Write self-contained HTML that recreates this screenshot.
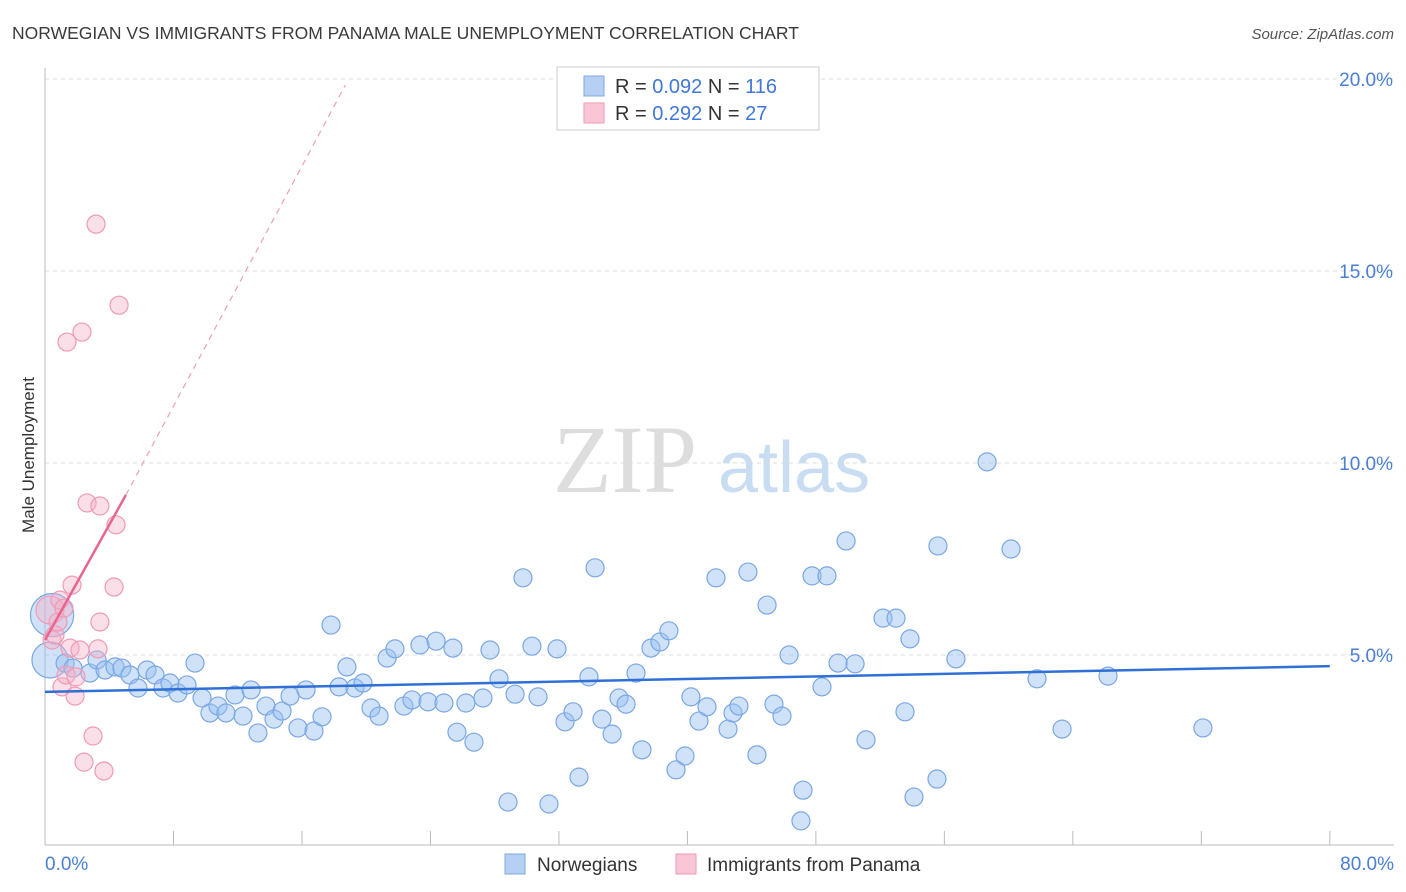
<!DOCTYPE html>
<html><head><meta charset="utf-8"><style>
body{margin:0;background:#fff;font-family:"Liberation Sans",sans-serif;}
svg{display:block}
</style></head><body>
<svg id="chart" width="1406" height="892">
<text x="12" y="39" font-size="17.5" fill="#3a3a3a">NORWEGIAN VS IMMIGRANTS FROM PANAMA MALE UNEMPLOYMENT CORRELATION CHART</text>
<text x="1394" y="39" font-size="15" fill="#555" text-anchor="end" font-style="italic">Source: ZipAtlas.com</text>
<text x="34" y="455" font-size="17" fill="#333" text-anchor="middle" transform="rotate(-90 34 455)">Male Unemployment</text>
<g>
<text x="553" y="492" font-size="96" font-family="Liberation Serif,serif" fill="#ddd">ZIP</text>
<text x="718" y="492" font-size="72" fill="#c8dcf2">atlas</text>
</g>
<g id="grid"></g><g id="marks"></g>
<g>
<rect x="557" y="67" width="262" height="63" fill="#fff" stroke="#ccc"/>
<rect x="584" y="76" width="20" height="20" fill="#b5d0f3" stroke="#7fa9e0"/>
<rect x="584" y="103" width="20" height="20" fill="#f9c6d6" stroke="#ef9ab5"/>
<text x="615" y="93" font-size="20" fill="#333">R = <tspan fill="#3f78d6">0.092</tspan>   N = <tspan fill="#3f78d6">116</tspan></text>
<text x="615" y="120" font-size="20" fill="#333">R =  <tspan fill="#3f78d6">0.292</tspan>   N =  <tspan fill="#3f78d6">27</tspan></text>
</g>
<g>
<rect x="505" y="854" width="20" height="20" fill="#b5d0f3" stroke="#7fa9e0"/>
<text x="537" y="871" font-size="19" fill="#333">Norwegians</text>
<rect x="676" y="854" width="20" height="20" fill="#f9c6d6" stroke="#ef9ab5"/>
<text x="707" y="871" font-size="19" fill="#333">Immigrants from Panama</text>
</g>
</svg>
<script>
const yTicks=[5,10,15,20];
const xTickLabels=["0.0%","80.0%"];
const blueX=[0.44,0.31,1.25,1.74,2.80,3.24,3.74,4.36,4.79,5.29,5.79,6.35,6.85,7.35,7.78,8.28,8.84,9.34,9.78,10.27,10.77,11.27,11.83,12.33,12.83,13.26,13.76,14.26,14.76,15.26,15.75,16.25,16.75,17.25,17.81,18.31,18.80,19.30,19.80,20.30,20.80,21.30,21.79,22.35,22.85,23.35,23.85,24.35,24.84,25.40,25.65,26.21,26.71,27.27,27.71,28.27,28.83,29.27,29.76,30.32,30.70,31.38,31.88,32.38,32.88,33.25,33.87,34.25,34.68,35.31,35.74,36.18,36.80,37.17,37.73,38.29,38.85,39.29,39.85,40.22,40.72,41.22,41.78,42.53,42.84,43.21,43.77,44.33,44.96,45.39,45.89,46.33,47.07,47.20,47.76,48.38,48.69,49.38,49.88,50.44,51.12,52.18,52.99,53.55,53.86,54.11,55.54,55.60,56.72,58.66,60.15,61.77,63.33,66.19,72.10];
const blueY=[6.04,4.87,4.79,4.66,4.53,4.87,4.61,4.69,4.66,4.48,4.14,4.61,4.48,4.14,4.27,4.01,4.22,4.79,3.88,3.49,3.67,3.49,3.96,3.41,4.09,2.97,3.67,3.33,3.54,3.93,3.10,4.09,3.02,3.39,5.78,4.17,4.69,4.14,4.27,3.62,3.41,4.92,5.16,3.67,3.83,5.26,3.78,5.36,3.75,5.18,2.99,3.75,2.73,3.88,5.13,4.38,1.17,3.98,7.01,5.23,3.91,1.12,5.16,3.26,3.52,1.82,4.43,7.27,3.33,2.94,3.88,3.72,4.53,2.53,5.18,5.34,5.63,2.01,2.37,3.91,3.28,3.65,7.01,3.07,3.49,3.67,7.16,2.40,6.30,3.72,3.41,5.00,0.68,1.48,7.06,4.17,7.06,4.79,7.97,4.77,2.79,5.96,5.96,3.52,5.42,1.30,1.77,7.84,4.90,10.03,7.76,4.38,3.07,4.45,3.10];
const blueSize=[2.4,2];
const pinkX=[0.31,0.44,0.62,0.81,0.93,1.18,1.68,1.37,2.30,3.18,4.61,2.62,3.42,4.42,4.30,3.42,1.06,1.56,1.31,1.87,3.30,2.18,1.93,2.99,2.43,3.67];
const pinkY=[6.17,5.39,5.52,5.86,6.43,6.22,6.82,13.15,13.41,16.22,14.11,8.96,8.88,8.39,6.77,5.86,4.17,5.18,4.48,3.93,5.16,5.13,4.43,2.89,2.21,1.98];
const blueTrend=[4.04,4.71];
const pinkTrend=[5.39,9.17,19.84];
const pinkTrendX=[0,5.04,18.7];
const X=v=>45+v*16.06, Y=v=>847-v*38.4;
const NS="http://www.w3.org/2000/svg";
function mk(t,a,p){const e=document.createElementNS(NS,t);for(const k in a)e.setAttribute(k,a[k]);p.appendChild(e);return e;}
const g=document.getElementById('grid'), m=document.getElementById('marks');
yTicks.forEach(t=>{
 const l=mk('line',{x1:45,x2:1394,y1:Y(t),y2:Y(t),stroke:'#ddd','stroke-dasharray':'4,4'},g);
 
 
 const tx=mk('text',{x:1393,y:Y(t)+7,'font-size':19,fill:'#4a7fd4','text-anchor':'end'},g);
 tx.textContent=t.toFixed(1)+'%';
 
 
});
mk('line',{x1:45,x2:45,y1:68,y2:845,stroke:'#bbb'},g);
mk('line',{x1:45,x2:1394,y1:845,y2:845,stroke:'#bbb'},g);
for(let i=0;i<=10;i++){const x=X(i*8);mk('line',{x1:x,x2:x,y1:831,y2:845,stroke:'#bbb'},g);}
const x0=mk('text',{x:45,y:870,'font-size':19,fill:'#4a7fd4'},g);x0.textContent=xTickLabels[0];


const x1=mk('text',{x:1394,y:870,'font-size':19,fill:'#4a7fd4','text-anchor':'end'},g);x1.textContent=xTickLabels[1];


blueX.forEach((v,i)=>{
 const r=i<blueSize.length?9*blueSize[i]:9;
 const c=mk('circle',{cx:X(v),cy:Y(blueY[i]),r:r,fill:'rgba(150,190,240,0.45)',stroke:'#7aa7e3','stroke-width':1.2},m);
 
 
});
pinkX.forEach((v,i)=>{
 const c=mk('circle',{cx:X(v),cy:Y(pinkY[i]),r:i==0?14:9,fill:'rgba(245,175,198,0.4)',stroke:'#ef9ab5','stroke-width':1.2},m);
 
 
});
const bt=mk('line',{x1:X(0),x2:X(80),y1:Y(blueTrend[0]),y2:Y(blueTrend[1]),stroke:'#2f6fd6','stroke-width':2.5},m);


const pt=mk('line',{x1:X(pinkTrendX[0]),x2:X(pinkTrendX[1]),y1:Y(pinkTrend[0]),y2:Y(pinkTrend[1]),stroke:'#e8658f','stroke-width':2.5},m);


const pd=mk('line',{x1:X(pinkTrendX[1]),x2:X(pinkTrendX[2]),y1:Y(pinkTrend[1]),y2:Y(pinkTrend[2]),stroke:'#eba0b8','stroke-width':1.2,'stroke-dasharray':'6,5'},m);


</script>
</body></html>
